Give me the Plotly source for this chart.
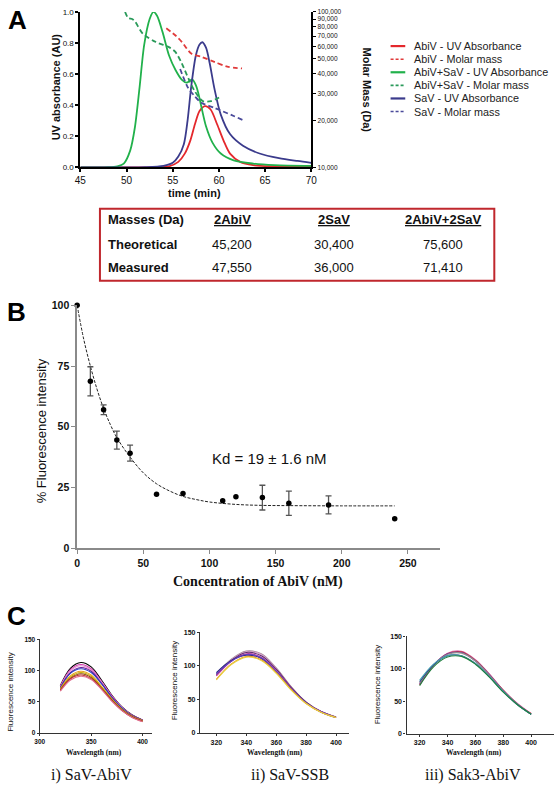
import plotly.graph_objects as go

W, H = 560, 787


def px(x):
    return x / W


def py(y):
    return 1 - y / H


# ---------------- Panel A data ----------------
abiv_uv_t = [45, 53, 54.6, 55.6, 56.3, 56.9, 57.4, 57.9, 58.5, 59.1, 59.8, 60.5, 61.2, 62.3, 63.7, 66, 70]
abiv_uv_v = [0, 0.002, 0.008, 0.036, 0.089, 0.173, 0.278, 0.363, 0.395, 0.373, 0.278, 0.173, 0.089, 0.036, 0.015, 0.008, 0.005]

mix_uv_t = [45, 48, 49, 49.7, 50.4, 50.9, 51.4, 51.9, 52.5, 52.9, 53.3, 53.9, 54.6, 55.3, 56.0, 56.5, 57.1, 57.5,
            57.8, 58.1, 58.6, 59.3, 60.2, 61.6, 63.7, 66, 70]
mix_uv_v = [0, 0.002, 0.008, 0.025, 0.11, 0.257, 0.51, 0.785, 0.954, 1.0, 0.975, 0.87, 0.72, 0.627, 0.563, 0.545,
            0.567, 0.53, 0.47, 0.39, 0.265, 0.16, 0.09, 0.046, 0.025, 0.015, 0.01]

sav_uv_t = [45, 52, 54, 55, 55.6, 56.2, 56.6, 57.0, 57.5, 57.9, 58.2, 58.6, 59.0, 59.5, 60.2, 61.2, 62.6, 64.4, 66.5,
            68.5, 70]
sav_uv_v = [0, 0.002, 0.01, 0.03, 0.07, 0.15, 0.3, 0.52, 0.72, 0.79, 0.805, 0.77, 0.67, 0.51, 0.34, 0.215, 0.14, 0.09,
            0.06, 0.042, 0.03]

abiv_mm_t = [54.3, 55.3, 56.0, 57.0, 58.1, 59.5, 60.9, 62.5]
abiv_mm_v = [78500, 70500, 64000, 54000, 51400, 47750, 44460, 43350]

mix_mm_t = [49.84, 50.19, 50.6, 50.89, 51.77, 53.18, 54.58, 55.28, 55.98, 56.68, 57.39, 58.26, 59.14, 60.26]
mix_mm_v = [100000, 91200, 90000, 87100, 72400, 64000, 59400, 55300, 46700, 37500, 30900, 26700, 26700, 28700]

sav_mm_t = [55.8, 56.68, 57.39, 58.09, 59.49, 61.6, 62.54]
sav_mm_v = [42950, 32360, 28700, 26060, 24210, 21430, 20230]

time_ticks = [45, 50, 55, 60, 65, 70]
uv_ticks = [0, 0.2, 0.4, 0.6, 0.8, 1.0]
mm_ticks = [10000, 20000, 30000, 40000, 50000, 60000, 70000, 80000, 90000, 100000]

legend_labels = ["AbiV - UV Absorbance", "AbiV - Molar mass", "AbiV+SaV - UV Absorbance",
                 "AbiV+SaV - Molar mass", "SaV - UV Absorbance", "SaV - Molar mass"]

# ---------------- Table data ----------------
table_cols = ["2AbiV", "2SaV", "2AbiV+2SaV"]
theoretical = [45200, 30400, 75600]
measured = [47550, 36000, 71410]

# ---------------- Panel B data ----------------
conc = [0, 10, 20, 30, 40, 60, 80, 110, 120, 140, 160, 190, 240]
fluo = [100, 68.7, 57.0, 44.5, 39.1, 22.2, 22.5, 19.5, 21.2, 20.8, 18.5, 17.8, 12.1]
fluo_err = [0, 6.0, 2.0, 3.7, 3.3, 0, 0, 0, 0, 5.1, 5.0, 3.7, 0]
fit_x = [0, 5, 10, 15, 20, 25, 30, 40, 50, 60, 70, 80, 90, 100, 120, 140, 160, 200, 240]
fit_y = [100, 86, 75, 65.5, 57.5, 51, 45.5, 37.5, 31, 26.5, 23.5, 21.3, 20, 19, 18, 17.6, 17.5, 17.4, 17.4]
conc_ticks = [0, 50, 100, 150, 200, 250]
fluo_ticks = [0, 25, 50, 75, 100]

# ---------------- Panel C data ----------------
wl = [320, 330, 340, 350, 360, 370, 380, 390, 400]
sav_abiv_spectra = [
    [76, 104, 113, 106, 85, 61, 42, 29, 21],
    [75, 102, 110, 103, 83, 60, 41, 28, 21],
    [74, 100, 108, 101, 82, 59, 41, 28, 20],
    [73, 97, 105, 99, 80, 58, 40, 28, 21],
    [72, 96, 103, 97, 79, 57, 40, 27, 20],
    [71, 92, 99, 93, 75, 55, 38, 27, 20],
    [70, 90, 97, 91, 74, 54, 38, 26, 19],
    [69, 88, 95, 89, 72, 53, 37, 26, 19],
    [68, 87, 93, 87, 71, 52, 36, 25, 19],
    [67, 85, 91, 86, 70, 51, 36, 25, 18],
]
sav_abiv_colors = ["#000000", "#d63fb0", "#e58fd0", "#6a1b9a", "#3040c0", "#e8a020", "#c8b000", "#8b4513",
                   "#c03030", "#e07090"]

sav_ssb_spectra = [
    [88, 110, 122, 118, 97, 69, 46, 32, 24],
    [87, 109, 121, 117, 96, 68, 46, 32, 24],
    [86, 108, 120, 115, 95, 68, 46, 32, 24],
    [85, 107, 118, 113, 93, 67, 45, 32, 23],
    [90, 108, 116, 111, 91, 66, 45, 31, 23],
    [88, 107, 117, 112, 92, 66, 45, 32, 23],
    [80, 103, 114, 109, 90, 65, 44, 31, 23],
    [79, 102, 113, 108, 89, 64, 44, 31, 23],
]
sav_ssb_colors = ["#a08898", "#d9a0c8", "#5a2a6a", "#c03aa0", "#2a2a80", "#6040c0", "#e89020", "#e8d040"]

sak3_abiv_spectra = [
    [76, 106, 124, 127, 114, 92, 67, 47, 31],
    [75, 105, 123, 126, 113, 91, 67, 46, 31],
    [77, 106, 123, 125, 112, 91, 66, 46, 30],
    [78, 106, 122, 124, 112, 90, 66, 46, 30],
    [80, 106, 120, 120, 108, 88, 65, 45, 30],
    [82, 107, 120, 120, 108, 88, 65, 45, 30],
    [74, 103, 118, 119, 107, 87, 64, 45, 30],
]
sak3_abiv_colors = ["#e070b0", "#c03040", "#7a3a9a", "#909090", "#2a3a80", "#40a0b0", "#208040"]

RED = "#e4282c"
GREEN = "#21b14b"
NAVY = "#3b3b8c"
RED_D = "#e03a3a"
GREEN_D = "#2a9a5a"
NAVY_D = "#4a4a9a"

fig = go.Figure()

# Panel A traces
fig.add_trace(go.Scatter(x=abiv_uv_t, y=abiv_uv_v, xaxis="x", yaxis="y", mode="lines", showlegend=False,
                         line=dict(color=RED, width=1.8, shape="spline", smoothing=0.8)))
fig.add_trace(go.Scatter(x=mix_uv_t, y=mix_uv_v, xaxis="x", yaxis="y", mode="lines", showlegend=False,
                         line=dict(color=GREEN, width=1.8, shape="spline", smoothing=0.8)))
fig.add_trace(go.Scatter(x=sav_uv_t, y=sav_uv_v, xaxis="x", yaxis="y", mode="lines", showlegend=False,
                         line=dict(color=NAVY, width=1.8, shape="spline", smoothing=0.8)))
fig.add_trace(go.Scatter(x=abiv_mm_t, y=abiv_mm_v, xaxis="x", yaxis="y2", mode="lines", showlegend=False,
                         line=dict(color=RED_D, width=1.8, dash="5px,3px", shape="spline", smoothing=0.8)))
fig.add_trace(go.Scatter(x=mix_mm_t, y=mix_mm_v, xaxis="x", yaxis="y2", mode="lines", showlegend=False,
                         line=dict(color=GREEN_D, width=1.8, dash="5px,3px", shape="spline", smoothing=0.8)))
fig.add_trace(go.Scatter(x=sav_mm_t, y=sav_mm_v, xaxis="x", yaxis="y2", mode="lines", showlegend=False,
                         line=dict(color=NAVY_D, width=1.8, dash="5px,3px", shape="spline", smoothing=0.8)))

# Panel B traces
fig.add_trace(go.Scatter(x=fit_x, y=fit_y, xaxis="x2", yaxis="y3", mode="lines", showlegend=False,
                         line=dict(color="#222", width=1, dash="3px,1.5px", shape="spline"), cliponaxis=False))
ex = [c for c, e in zip(conc, fluo_err) if e > 0]
ey = [f for f, e in zip(fluo, fluo_err) if e > 0]
ee = [e for e in fluo_err if e > 0]
nx = [c for c, e in zip(conc, fluo_err) if e == 0]
ny = [f for f, e in zip(fluo, fluo_err) if e == 0]
fig.add_trace(go.Scatter(x=ex, y=ey, xaxis="x2", yaxis="y3", mode="markers", showlegend=False,
                         marker=dict(color="black", size=5.5),
                         error_y=dict(type="data", array=ee, color="#555", thickness=1.3, width=3)))
fig.add_trace(go.Scatter(x=nx, y=ny, xaxis="x2", yaxis="y3", mode="markers", showlegend=False,
                         marker=dict(color="black", size=5.5), cliponaxis=False))

# Panel C traces
for spectra, colors, xa, ya in [(sav_abiv_spectra, sav_abiv_colors, "x3", "y4"),
                                (sav_ssb_spectra, sav_ssb_colors, "x4", "y5"),
                                (sak3_abiv_spectra, sak3_abiv_colors, "x5", "y6")]:
    for s, c in zip(spectra, colors):
        fig.add_trace(go.Scatter(x=wl, y=s, xaxis=xa, yaxis=ya, mode="lines", showlegend=False,
                                 line=dict(color=c, width=1.1, shape="spline")))

AX_FONT = "Liberation Sans, Arial, sans-serif"
SERIF = "Liberation Serif, Times New Roman, serif"


def axis_common(**kw):
    d = dict(showgrid=False, zeroline=False, showline=True, ticks="outside", mirror=False)
    d.update(kw)
    return d


layout = dict(
    width=W, height=H, margin=dict(l=0, r=0, t=0, b=0),
    paper_bgcolor="white", plot_bgcolor="rgba(0,0,0,0)",
    font=dict(family=AX_FONT, color="#111"),
    showlegend=False,
    # Panel A
    xaxis=axis_common(domain=[px(76), px(312)], range=[45, 70], anchor="y", tickvals=time_ticks,
                      linecolor="black", linewidth=2, tickcolor="black", ticklen=3, tickwidth=1.5,
                      tickfont=dict(size=10, color="#111")),
    yaxis=axis_common(domain=[py(164), py(6)], range=[0, 1], anchor="x", tickvals=uv_ticks, tickformat=".1f",
                      linecolor="black", linewidth=2, tickcolor="black", ticklen=3, tickwidth=1.5,
                      tickfont=dict(size=8, color="#111")),
    yaxis2=axis_common(type="log", range=[4, 5], overlaying="y", side="right", anchor="x",
                       tickvals=mm_ticks, ticktext=[f"{v:,}" for v in mm_ticks],
                       linecolor="black", linewidth=2, tickcolor="black", ticklen=3, tickwidth=1,
                       tickfont=dict(size=6.5, color="#111")),
    # Panel B
    xaxis2=axis_common(domain=[px(72.7), px(444)], range=[0, 274.6], anchor="y3", tickvals=conc_ticks,
                       linecolor="#8a8a8a", linewidth=1.6, tickcolor="#8a8a8a", ticklen=4, tickwidth=1,
                       tickfont=dict(size=10.5, color="#111", weight="bold")),
    yaxis3=axis_common(domain=[py(550.5), py(304)], range=[0, 100], anchor="x2", tickvals=fluo_ticks,
                       linecolor="#8a8a8a", linewidth=1.6, tickcolor="#8a8a8a", ticklen=4, tickwidth=1,
                       tickfont=dict(size=10.5, color="#111", weight="bold")),
    # Panel C i
    xaxis3=axis_common(domain=[px(34.5), px(149)], range=[300, 409], anchor="y4", tickvals=[300, 350, 400],
                       linecolor="#333", linewidth=1.4, tickcolor="#333", ticklen=2, tickwidth=1,
                       tickfont=dict(size=6.5, color="#111", weight="bold")),
    yaxis4=axis_common(domain=[py(738.3), py(643.3)], range=[0, 150], anchor="x3", tickvals=[0, 50, 100, 150],
                       linecolor="#333", linewidth=1.4, tickcolor="#333", ticklen=2, tickwidth=1,
                       tickfont=dict(size=6.5, color="#111", weight="bold")),
    # Panel C ii
    xaxis4=axis_common(domain=[px(198.3), px(350)], range=[309.1, 408.3], anchor="y5",
                       tickvals=[320, 340, 360, 380, 400],
                       linecolor="#333", linewidth=1.4, tickcolor="#333", ticklen=2, tickwidth=1,
                       tickfont=dict(size=7, color="#111", weight="bold")),
    yaxis5=axis_common(domain=[py(738.3), py(636)], range=[0, 150], anchor="x4", tickvals=[0, 50, 100, 150],
                       linecolor="#333", linewidth=1.4, tickcolor="#333", ticklen=2, tickwidth=1,
                       tickfont=dict(size=7, color="#111", weight="bold")),
    # Panel C iii
    xaxis5=axis_common(domain=[px(409.3), px(560)], range=[310.6, 416.4], anchor="y6",
                       tickvals=[320, 340, 360, 380, 400],
                       linecolor="#333", linewidth=1.4, tickcolor="#333", ticklen=2, tickwidth=1,
                       tickfont=dict(size=7, color="#111", weight="bold")),
    yaxis6=axis_common(domain=[py(739), py(640)], range=[0, 150], anchor="x5", tickvals=[0, 50, 100, 150],
                       linecolor="#333", linewidth=1.4, tickcolor="#333", ticklen=2, tickwidth=1,
                       tickfont=dict(size=7, color="#111", weight="bold")),
)
fig.update_layout(**layout)

ann = []
shapes = []


def text(x, y, s, size, bold=False, family=AX_FONT, angle=0, xanchor="center", color="#111"):
    ann.append(dict(x=px(x), y=py(y), xref="paper", yref="paper", text=s, showarrow=False, textangle=angle,
                    xanchor=xanchor, yanchor="middle",
                    font=dict(size=size, family=family, color=color, weight="bold" if bold else "normal")))


# Panel letters
text(12, 14.5, "A", 26, bold=True, color="black")
text(10.5, 310.5, "B", 26, bold=True, color="black")
text(10.5, 619.5, "C", 26, bold=True, color="black")

# Panel A titles
text(50.7, 82, "UV absorbance (AU)", 11, bold=True, angle=-90)
text(193, 190, "time (min)", 11, bold=True)
text(369, 85, "Molar Mass (Da)", 11, bold=True, angle=90)

# Manual legend for panel A
leg_colors = [RED, RED_D, GREEN, GREEN_D, NAVY, NAVY_D]
leg_dash = ["solid", "dash", "solid", "dash", "solid", "dash"]
for i, (lab, c, d) in enumerate(zip(legend_labels, leg_colors, leg_dash)):
    yy = 40.7 + 13.3 * i
    shapes.append(dict(type="line", xref="paper", yref="paper", x0=px(393), x1=px(408), y0=py(yy), y1=py(yy),
                       line=dict(color=c, width=2.2 if d == "solid" else 1.6,
                                 dash="solid" if d == "solid" else "3px,2px")))
    text(414.5, yy, lab, 10.8, xanchor="left", color="#222")

# Table
shapes.append(dict(type="rect", xref="paper", yref="paper", x0=px(96), x1=px(499), y0=py(279), y1=py(206),
                   line=dict(color="#c0272d", width=2)))
col_x = [231, 335, 447]
text(102, 217, "Masses (Da)", 13, bold=True, xanchor="left", color="#111")
text(102, 242, "Theoretical", 13, bold=True, xanchor="left", color="#111")
text(102, 266, "Measured", 13, bold=True, xanchor="left", color="#111")
for cx, name, th, me in zip(col_x, table_cols, theoretical, measured):
    text(cx, 217, f"<u>{name}</u>", 13, bold=True)
    text(cx, 242, f"{th:,}", 13)
    text(cx, 266, f"{me:,}", 13)

# Panel B titles
text(36, 431.7, "% Fluorescence intensity", 13, angle=-90)
text(258, 585, "Concentration of AbiV (nM)", 14, bold=True, family=SERIF)
text(269, 460, "Kd = 19 ± 1.6 nM", 15)

# Panel C titles
text(4.5, 696, "Fluorescence intensity", 8, angle=-90)
text(172.5, 685, "Fluorescence intensity", 8, angle=-90)
text(380, 689, "Fluorescence intensity", 8, angle=-90)
text(90, 758, "Wavelength (nm)", 7.5, bold=True, family=SERIF)
text(275, 758, "Wavelength (nm)", 7.5, bold=True, family=SERIF)
text(478, 758, "Wavelength (nm)", 7.5, bold=True, family=SERIF)
text(87, 780.5, "i) SaV-AbiV", 16, family=SERIF)
text(290, 780.5, "ii) SaV-SSB", 16, family=SERIF)
text(477, 780.5, "iii) Sak3-AbiV", 16, family=SERIF)

fig.update_layout(annotations=ann, shapes=shapes)
fig.write_html("out.html", config={"displayModeBar": False},
               post_script="document.body.style.margin='0';")
